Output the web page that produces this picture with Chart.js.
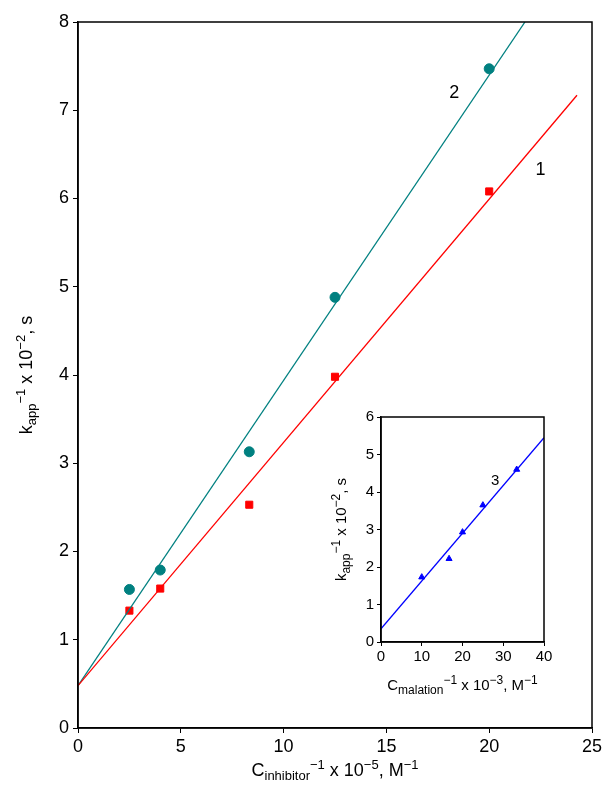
<!DOCTYPE html>
<html><head><meta charset="utf-8">
<script src="https://cdn.jsdelivr.net/npm/chart.js@4"></script>
<style>body{margin:0;background:#fff}#wrap{position:relative;width:606px;height:788px}
#main{position:absolute;left:0;top:0}#inset{position:absolute;left:320px;top:405px}</style>
</head><body><div id="wrap"><canvas id="main" width="606" height="788"></canvas><canvas id="inset" width="240" height="290"></canvas></div>
<script>
const xInhib=[2.5,4,8.33,12.5,20];
const series1=[1.33,1.58,2.53,3.98,6.08];
const series2=[1.57,1.79,3.13,4.88,7.47];
const fit1X=[0,24.27], fit1Y=[0.48,7.17];
const fit2X=[0,21.74], fit2Y=[0.48,8.0];
const xMal=[10,16.7,20,25,33.3];
const series3=[1.73,2.22,2.93,3.65,4.6];
const fit3X=[0,40], fit3Y=[0.35,5.45];
const pts=(xs,ys)=>xs.map((x,i)=>({x,y:ys[i]}));
const F='Arial, "Liberation Sans", sans-serif';
Chart.defaults.font.family=F;Chart.defaults.color='#000';
Chart.defaults.animation=false;

function labelsPlugin(items){return{id:'lbl',afterDatasetsDraw(c){const ctx=c.ctx;ctx.save();ctx.fillStyle='#000';ctx.textAlign='center';ctx.textBaseline='middle';
 for(const it of items){ctx.font=it.size+'px '+F;ctx.fillText(it.t,c.scales.x.getPixelForValue(it.x),c.scales.y.getPixelForValue(it.y));}ctx.restore();}};}
function titlePlugin(xs,ys){return{id:'ttl',afterDraw(c){const ctx=c.ctx,a=c.chartArea;ctx.save();ctx.fillStyle='#000';
 const drawRich=(parts,x,y)=>{let w=0;parts.forEach(p=>{ctx.font=p[2]+'px '+F;w+=ctx.measureText(p[0]).width;});let cx=x-w/2;ctx.textAlign='left';ctx.textBaseline='alphabetic';
  parts.forEach(p=>{ctx.font=p[2]+'px '+F;ctx.fillText(p[0],cx,y+p[1]);cx+=ctx.measureText(p[0]).width;});};
 drawRich(xs.parts,(a.left+a.right)/2+xs.dx,xs.y);
 ctx.translate(ys.x,(a.top+a.bottom)/2+ys.dy);ctx.rotate(-Math.PI/2);drawRich(ys.parts,0,0);ctx.restore();}};}
const boxPlugin={id:'box',afterDraw(c){const a=c.chartArea,ctx=c.ctx;ctx.save();ctx.strokeStyle='#000';ctx.lineWidth=1.5;ctx.strokeRect(a.left,a.top,a.right-a.left,a.bottom-a.top);ctx.restore();}};

const s=18,sub=13;
new Chart(document.getElementById('main'),{type:'scatter',
 data:{datasets:[
  {data:pts(fit1X,fit1Y),showLine:true,borderColor:'#ff0000',borderWidth:1.3,pointRadius:0},
  {data:pts(fit2X,fit2Y),showLine:true,borderColor:'#008080',borderWidth:1.3,pointRadius:0},
  {data:pts(xInhib,series1),pointStyle:'rect',pointRadius:5,backgroundColor:'#ff0000',borderColor:'#ff0000'},
  {data:pts(xInhib,series2),pointStyle:'circle',pointRadius:5,backgroundColor:'#008080',borderColor:'#008080'}]},
 options:{responsive:false,layout:{padding:{top:22,right:14,left:0,bottom:0}},plugins:{legend:{display:false},tooltip:{enabled:false}},
  scales:{x:{min:0,max:25,afterFit(a){a.height=60;},ticks:{stepSize:5,font:{size:s},padding:3},grid:{display:true,drawOnChartArea:false,tickLength:5,color:'#000'},border:{color:'#000',width:1.5}},
   y:{min:0,max:8,afterFit(a){a.width=78;},ticks:{stepSize:1,font:{size:s},padding:4},grid:{display:true,drawOnChartArea:false,tickLength:5,color:'#000'},border:{color:'#000',width:1.5}}}},
 plugins:[boxPlugin,labelsPlugin([{t:'2',x:18.3,y:7.2,size:s},{t:'1',x:22.5,y:6.32,size:s}]),
  titlePlugin({dx:0,y:776,parts:[['C',0,s],['inhibitor',4,sub],['\u22121',-7,sub],[' x 10',0,s],['\u22125',-7,sub],[', M',0,s],['\u22121',-7,sub]]},
   {x:32,dy:0,parts:[['k',0,s],['app',4,sub],['\u22121',-7,sub],[' x 10',0,s],['\u22122',-7,sub],[', s',0,s]]})]});

const s2=15,sub2=12;
new Chart(document.getElementById('inset'),{type:'scatter',
 data:{datasets:[
  {data:pts(fit3X,fit3Y),showLine:true,borderColor:'#0000ff',borderWidth:1.3,pointRadius:0},
  {data:pts(xMal,series3),pointStyle:'triangle',pointRadius:3.5,backgroundColor:'#0000ff',borderColor:'#0000ff'}]},
 options:{responsive:false,layout:{padding:{top:11,right:16,left:0,bottom:0}},plugins:{legend:{display:false},tooltip:{enabled:false}},
  scales:{x:{min:0,max:40,afterFit(a){a.height=53;},ticks:{stepSize:10,font:{size:s2},padding:2},grid:{display:true,drawOnChartArea:false,tickLength:4,color:'#000'},border:{color:'#000',width:1.5}},
   y:{min:0,max:6,afterFit(a){a.width=61;},ticks:{stepSize:1,font:{size:s2},padding:3},grid:{display:true,drawOnChartArea:false,tickLength:4,color:'#000'},border:{color:'#000',width:1.5}}}},
 plugins:[boxPlugin,labelsPlugin([{t:'3',x:28,y:4.3,size:s2}]),
  titlePlugin({dx:0,y:285,parts:[['C',0,s2],['malation',4,sub2],['\u22121',-6,sub2],[' x 10',0,s2],['\u22123',-6,sub2],[', M',0,s2],['\u22121',-6,sub2]]},
   {x:26,dy:0,parts:[['k',0,s2],['app',4,sub2],['\u22121',-6,sub2],[' x 10',0,s2],['\u22122',-6,sub2],[', s',0,s2]]})]});
</script></body></html>
